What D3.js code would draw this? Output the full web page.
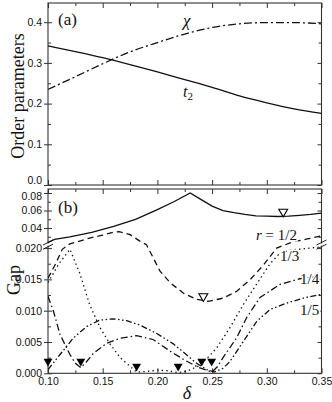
<!DOCTYPE html>
<html>
<head>
<meta charset="utf-8">
<script src="https://cdn.jsdelivr.net/npm/d3@7"></script>
<style>
  body { margin: 0; background: #fff; }
  svg { display: block; font-family: 'Liberation Serif', 'Times New Roman', serif; }
  .tick text { font-size: 10.5px; fill: #111; }
  .tick line { stroke: #333; }
</style>
</head>
<body>
<svg id="chart" width="332" height="402"></svg>
<script>
// (a) order parameters
const deltaA = [0.10, 0.125, 0.15, 0.175, 0.20, 0.225, 0.25, 0.275, 0.30, 0.325, 0.35];
const chi = [0.235, 0.266, 0.298, 0.327, 0.350, 0.371, 0.387, 0.396, 0.399, 0.399, 0.396];
const t2 = [0.342, 0.328, 0.313, 0.296, 0.278, 0.259, 0.240, 0.219, 0.202, 0.187, 0.176];

// (b) gaps
const deltaS = [0.10, 0.106, 0.12, 0.14, 0.16, 0.18, 0.20, 0.215, 0.23, 0.24, 0.25, 0.26, 0.27, 0.28, 0.29, 0.30, 0.31, 0.32, 0.33, 0.34, 0.35];
const gapS = [0.0235, 0.027, 0.030, 0.035, 0.042, 0.050, 0.061, 0.070, 0.080, 0.0725, 0.065, 0.060, 0.0575, 0.0555, 0.054, 0.0535, 0.0532, 0.0535, 0.0545, 0.0555, 0.057];

const delta2 = [0.100, 0.107, 0.113, 0.120, 0.126, 0.138, 0.150, 0.160, 0.165, 0.175, 0.184, 0.190, 0.196, 0.2024, 0.2115, 0.2238, 0.236, 0.2465, 0.260, 0.2725, 0.285, 0.297, 0.309, 0.324, 0.337, 0.350];
const gap2 = [0.0152, 0.0175, 0.0198, 0.0222, 0.0240, 0.0285, 0.0320, 0.0352, 0.0358, 0.0325, 0.0250, 0.0215, 0.0185, 0.0163, 0.0145, 0.0128, 0.0118, 0.0115, 0.0120, 0.0131, 0.0150, 0.0173, 0.0200, 0.0243, 0.0275, 0.0310];

const delta3 = [0.100, 0.110, 0.120, 0.129, 0.138, 0.1475, 0.157, 0.166, 0.175, 0.181, 0.190, 0.200, 0.210, 0.219, 0.228, 0.238, 0.246, 0.254, 0.266, 0.2786, 0.2905, 0.303, 0.312, 0.322, 0.335, 0.350];
const gap3 = [0.0145, 0.0175, 0.0198, 0.0160, 0.0110, 0.0073, 0.0046, 0.0025, 0.0011, 0.0002, 0.0003, 0.0005, 0.0004, 0.0001, 0.0004, 0.0012, 0.0025, 0.0040, 0.0072, 0.0110, 0.0142, 0.0175, 0.0192, 0.0197, 0.0199, 0.0202];

const delta4 = [0.100, 0.105, 0.111, 0.1155, 0.120, 0.125, 0.130, 0.135, 0.1415, 0.1536, 0.1658, 0.181, 0.196, 0.212, 0.225, 0.238, 0.250, 0.255, 0.260, 0.2725, 0.2816, 0.2938, 0.312, 0.330, 0.350];
const gap4 = [0.0123, 0.0099, 0.0062, 0.0046, 0.0030, 0.0016, 0.0009, 0.0018, 0.0032, 0.0048, 0.0056, 0.0060, 0.0054, 0.0035, 0.0021, 0.0009, 0.0002, 0.0011, 0.0025, 0.0057, 0.0089, 0.0121, 0.0142, 0.0151, 0.0155];

const delta5 = [0.100, 0.111, 0.123, 0.1355, 0.1475, 0.160, 0.172, 0.184, 0.199, 0.2146, 0.225, 0.235, 0.245, 0.252, 0.260, 0.2664, 0.2786, 0.2908, 0.303, 0.318, 0.335, 0.350];
const gap5 = [0.0006, 0.0030, 0.0056, 0.0075, 0.0085, 0.0087, 0.0084, 0.0077, 0.0064, 0.0047, 0.0032, 0.0017, 0.0006, 0.0002, 0.0008, 0.0019, 0.0051, 0.0083, 0.0102, 0.0112, 0.0121, 0.0126];

const filledMarkerDelta = [0.100, 0.130, 0.181, 0.219, 0.2405, 0.2496];
const filledMarkerGap = [0.0019, 0.0019, 0.0011, 0.0011, 0.0019, 0.0019];
const openMarkerDelta = [0.315, 0.242];
const openMarkerGap = [0.0586, 0.0123];

const xTicks = [0.10, 0.15, 0.20, 0.25, 0.30, 0.35];
const xMinor = [0.125, 0.175, 0.225, 0.275, 0.325];
const yTicksA = [0.0, 0.1, 0.2, 0.3, 0.4];
const yMinorA = [0.05, 0.15, 0.25, 0.35];
const yTicksB = [0, 0.005, 0.010, 0.015, 0.020, 0.04, 0.06, 0.08];
const yMinorB = [0.0025, 0.0075, 0.0125, 0.0175, 0.03, 0.05, 0.07];
const curveLabels = ['1/3', '1/4', '1/5'];

const left = 48, right = 321.5;
const x = d3.scaleLinear().domain([0.10, 0.35]).range([left, right]);
const yA = d3.scaleLinear().domain([0, 0.4472]).range([185, 3]);
// broken axis: lower part 0..0.0203, upper part 0.0229..0.0846
const yB = d3.scaleLinear()
  .domain([0, 0.0203, 0.0229, 0.0846])
  .range([373.3, 246.2, 243, 189]);

const svg = d3.select('#chart');

const clip = (id, y0, y1) => {
  svg.append('clipPath').attr('id', id)
    .append('rect').attr('x', left).attr('y', y0)
    .attr('width', right - left).attr('height', y1 - y0);
};
clip('clipA', 3, 185);
clip('clipB', 189, 373.3);

const dropDomain = g => g.select('.domain').remove();

const drawAxes = (y, top, bottom, major, minor, fmt, withX, cls) => {
  svg.append('g').attr('class', cls).attr('transform', `translate(${left},0)`)
    .call(d3.axisLeft(y).tickValues(major).tickSize(4).tickPadding(2).tickFormat(fmt))
    .call(dropDomain);
  svg.append('g').attr('transform', `translate(${left},0)`)
    .call(d3.axisLeft(y).tickValues(major).tickSize(-4).tickFormat(''))
    .call(dropDomain);
  svg.append('g').attr('transform', `translate(${left},0)`)
    .call(d3.axisLeft(y).tickValues(minor).tickSize(-3).tickFormat(''))
    .call(dropDomain);
  svg.append('g').attr('transform', `translate(${right},0)`)
    .call(d3.axisRight(y).tickValues(major).tickSize(-4).tickFormat(''))
    .call(dropDomain);
  svg.append('g').attr('transform', `translate(${right},0)`)
    .call(d3.axisRight(y).tickValues(minor).tickSize(-3).tickFormat(''))
    .call(dropDomain);
  svg.append('g').attr('transform', `translate(0,${top})`)
    .call(d3.axisTop(x).tickValues(xTicks).tickSize(-5).tickFormat(''))
    .call(dropDomain);
  svg.append('g').attr('transform', `translate(0,${top})`)
    .call(d3.axisTop(x).tickValues(xMinor).tickSize(-3).tickFormat(''))
    .call(dropDomain);
  svg.append('g').attr('transform', `translate(0,${bottom})`)
    .call(d3.axisBottom(x).tickValues(xTicks).tickSize(-5).tickPadding(4)
      .tickFormat(withX ? d3.format('.2f') : ''))
    .call(dropDomain);
  svg.append('g').attr('transform', `translate(0,${bottom})`)
    .call(d3.axisBottom(x).tickValues(xMinor).tickSize(-3).tickFormat(''))
    .call(dropDomain);
  svg.append('rect')
    .attr('x', left).attr('y', top)
    .attr('width', right - left).attr('height', bottom - top)
    .attr('fill', 'none').attr('stroke', '#333').attr('stroke-width', 1.1);
};

drawAxes(yA, 3, 185, yTicksA, yMinorA, d3.format('.1f'), false, 'ylabA');
drawAxes(yB, 189, 373.3, yTicksB, yMinorB,
  d => (d < 0.021 ? d3.format('.3f')(d) : d3.format('.2f')(d)), true, 'ylabB');

// "0.0" of (a) and "0.08" of (b) are stacked tightly: nudge them apart
svg.select('.ylabA').selectAll('.tick text').filter(d => d === 0).attr('dy', '-0.12em');
svg.select('.ylabB').selectAll('.tick text').filter(d => d === 0.08).attr('dy', '0.62em');

// axis break marks
[left, right].forEach(bx => {
  svg.append('rect').attr('x', bx - 2).attr('y', yB(0.0229) + 0.5)
    .attr('width', 4).attr('height', yB(0.0203) - yB(0.0229) - 1).attr('fill', '#fff');
  [yB(0.0229) - 0.5, yB(0.0203) + 0.5].forEach(by => {
    svg.append('line')
      .attr('x1', bx - 5).attr('y1', by + 2.5)
      .attr('x2', bx + 5).attr('y2', by - 2.5)
      .attr('stroke', '#222').attr('stroke-width', 1);
  });
});

const plot = (clipId, y, xs, ys, dash, curve) => {
  const line = d3.line().x(d => x(d[0])).y(d => y(d[1])).curve(curve);
  svg.append('path')
    .datum(xs.map((d, i) => [d, ys[i]]))
    .attr('clip-path', `url(#${clipId})`)
    .attr('fill', 'none').attr('stroke', '#111')
    .attr('stroke-width', 1.3)
    .attr('stroke-dasharray', dash)
    .attr('d', line);
};

plot('clipA', yA, deltaA, t2, null, d3.curveMonotoneX);
plot('clipA', yA, deltaA, chi, '8,3,2,3', d3.curveMonotoneX);

plot('clipB', yB, deltaS, gapS, null, d3.curveLinear);
plot('clipB', yB, delta2, gap2, '6,4', d3.curveLinear);
plot('clipB', yB, delta3, gap3, '1.4,3.2', d3.curveLinear);
plot('clipB', yB, delta4, gap4, '7,3,1.5,3', d3.curveLinear);
plot('clipB', yB, delta5, gap5, '6,2.5,1.5,2.5,1.5,2.5', d3.curveLinear);

const tri = d3.symbol().type(d3.symbolTriangle).size(34);
svg.selectAll('.fm').data(filledMarkerDelta).enter().append('path')
  .attr('class', 'fm')
  .attr('d', tri)
  .attr('transform', (d, i) => `translate(${x(d)},${yB(filledMarkerGap[i])}) rotate(180)`)
  .attr('fill', '#000');
svg.selectAll('.om').data(openMarkerDelta).enter().append('path')
  .attr('class', 'om')
  .attr('d', tri)
  .attr('transform', (d, i) => `translate(${x(d)},${yB(openMarkerGap[i])}) rotate(180)`)
  .attr('fill', '#fff').attr('stroke', '#000').attr('stroke-width', 1.1);

// texts
const text = (tx, ty, str, size, opts) => {
  const t = svg.append('text').attr('x', tx).attr('y', ty)
    .attr('font-size', size).attr('fill', '#111').text(str);
  if (opts && opts.italic) t.attr('font-style', 'italic');
  if (opts && opts.anchor) t.attr('text-anchor', opts.anchor);
  if (opts && opts.halo) t.attr('stroke', '#fff').attr('stroke-width', 3).attr('paint-order', 'stroke');
  return t;
};

text(58, 25, '(a)', 17);
text(58, 213, '(b)', 17);
text(183, 26, 'χ', 17, { italic: true });
const t2Label = text(183, 97, 't', 16, { italic: true });
t2Label.append('tspan').attr('font-size', 11).attr('font-style', 'normal').attr('dy', 3).text('2');

const rLabel = text(256, 240, '', 15, { halo: true });
rLabel.append('tspan').attr('font-style', 'italic').text('r');
rLabel.append('tspan').text(' = 1/2');
text(280, 261, curveLabels[0], 15, { halo: true });
text(300, 284, curveLabels[1], 15, { halo: true });
text(300, 315, curveLabels[2], 15, { halo: true });

svg.append('text')
  .attr('transform', 'translate(24,96) rotate(-90)')
  .attr('text-anchor', 'middle').attr('font-size', 18).attr('fill', '#111')
  .text('Order parameters');
svg.append('text')
  .attr('transform', 'translate(20,280) rotate(-90)')
  .attr('text-anchor', 'middle').attr('font-size', 18).attr('fill', '#111')
  .text('Gap');
text(187, 399, 'δ', 18, { italic: true, anchor: 'middle' });
</script>
</body>
</html>
